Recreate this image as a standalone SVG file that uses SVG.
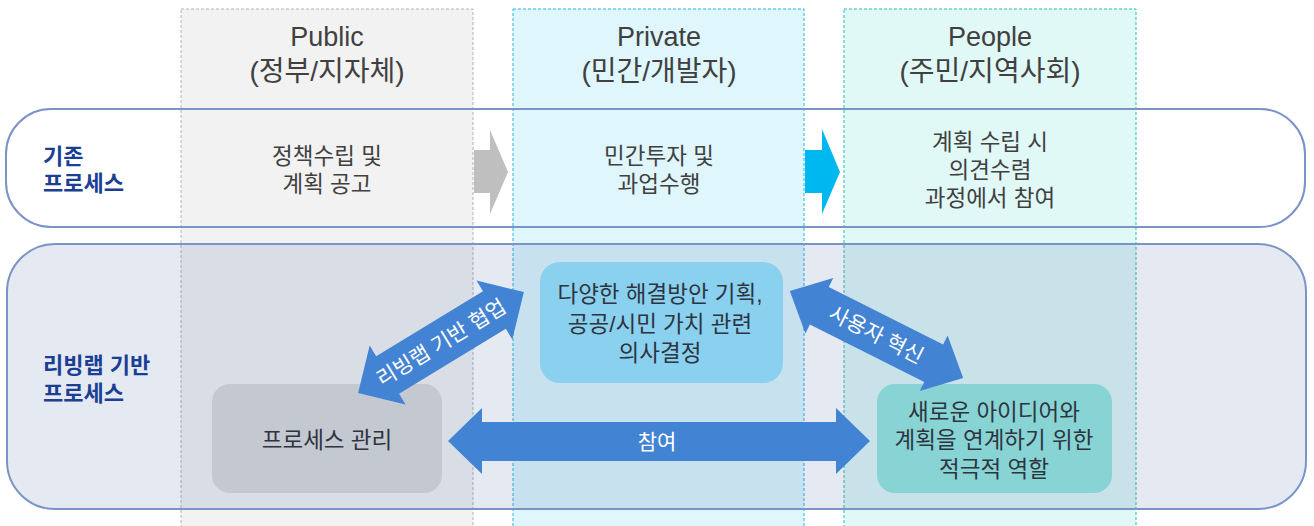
<svg xmlns="http://www.w3.org/2000/svg" width="1314" height="526" viewBox="0 0 1314 526">
<style>
text{font-family:"Liberation Sans","Noto Sans CJK KR",sans-serif;text-anchor:middle}
.hdr{font-size:27px;fill:#404040}
.hdk{font-size:28px;fill:#404040}
.bt{font-size:22.5px;fill:#404040}
.lab{font-size:22px;font-weight:bold;fill:#1a3f94;text-anchor:start}
.nt{font-size:22.5px;fill:#2e3440}
.wt{font-size:21px;fill:#ffffff}
.arr{fill:#4383d3}
</style>
<rect width="1314" height="526" fill="#ffffff"/>
<g id="col-public">
<rect x="181" y="9" width="292" height="530" fill="#f2f2f2" stroke="#b3b3b3" stroke-width="1" stroke-dasharray="3,2"/>
<text class="hdr" x="327" y="46">Public</text>
<text class="hdk" x="327" y="81">(정부/지자체)</text>
</g>
<g id="col-private">
<rect x="513" y="9" width="291" height="530" fill="#dff6fc" stroke="#1fb6e8" stroke-width="1" stroke-dasharray="3,2"/>
<text class="hdr" x="659" y="46">Private</text>
<text class="hdk" x="659" y="81">(민간/개발자)</text>
</g>
<g id="col-people">
<rect x="844" y="9" width="292" height="530" fill="#e0f8f6" stroke="#22c2b0" stroke-width="1" stroke-dasharray="3,2"/>
<text class="hdr" x="990" y="46">People</text>
<text class="hdk" x="990" y="81">(주민/지역사회)</text>
</g>
<g id="band-existing">
<rect x="6" y="109" width="1299" height="118" rx="45" ry="45" fill="none" stroke="#7a94c8" stroke-width="2"/>
<text class="lab" x="43" y="164">기존</text>
<text class="lab" x="43" y="191">프로세스</text>
<text class="bt" x="327" y="164">정책수립 및</text>
<text class="bt" x="327" y="192">계획 공고</text>
<text class="bt" x="659" y="164">민간투자 및</text>
<text class="bt" x="659" y="192">과업수행</text>
<text class="bt" x="990" y="150">계획 수립 시</text>
<text class="bt" x="990" y="178">의견수렴</text>
<text class="bt" x="990" y="206">과정에서 참여</text>
</g>
<g id="band-livinglab">
<rect x="7" y="244" width="1299" height="265" rx="48" ry="48" fill="#264893" fill-opacity="0.12" stroke="#7a94c8" stroke-width="2"/>
<text class="lab" x="43" y="373">리빙랩 기반</text>
<text class="lab" x="43" y="401">프로세스</text>
</g>
<g id="node-process">
<rect x="212" y="384" width="230" height="109" rx="18" ry="18" fill="#c4c8d0"/>
<text class="nt" x="327" y="448">프로세스 관리</text>
</g>
<g id="node-solution">
<rect x="540" y="262" width="243" height="121" rx="20" ry="20" fill="#8ad1ef"/>
<text class="nt" x="660" y="302">다양한 해결방안 기획,</text>
<text class="nt" x="660" y="332">공공/시민 가치 관련</text>
<text class="nt" x="660" y="361">의사결정</text>
</g>
<g id="node-idea">
<rect x="877" y="384" width="235" height="109" rx="18" ry="18" fill="#88d4d4"/>
<text class="nt" x="994" y="420">새로운 아이디어와</text>
<text class="nt" x="994" y="448">계획을 연계하기 위한</text>
<text class="nt" x="994" y="477">적극적 역할</text>
</g>
<g id="connectors">
<polygon points="474,150 490,150 490,130 508,172 490,214 490,193 474,193" fill="#bfbfbf"/>
<polygon points="805,150 822,150 822,129 840,172 822,214 822,193 805,193" fill="#00b8f0"/>
<polygon class="arr" points="448,441 482,408 482,422 836,422 836,408 870,441 836,474 836,461 482,461 482,474"/>
<text class="wt" x="657" y="449">참여</text>
<g transform="translate(441,342.5) rotate(-31.3)">
<polygon class="arr" points="-97,0 -62.5,-34.5 -62.5,-22 62.5,-22 62.5,-34.5 97,0 62.5,34.5 62.5,22 -62.5,22 -62.5,34.5"/>
<text class="wt" x="0" y="7.5">리빙랩 기반 협업</text>
</g>
<g transform="translate(876.5,334.5) rotate(26.7)">
<polygon class="arr" points="-97,0 -64,-31 -64,-21 64,-21 64,-31 97,0 64,31 64,21 -64,21 -64,31"/>
<text class="wt" x="0" y="7.5">사용자 혁신</text>
</g>
</g>
</svg>
